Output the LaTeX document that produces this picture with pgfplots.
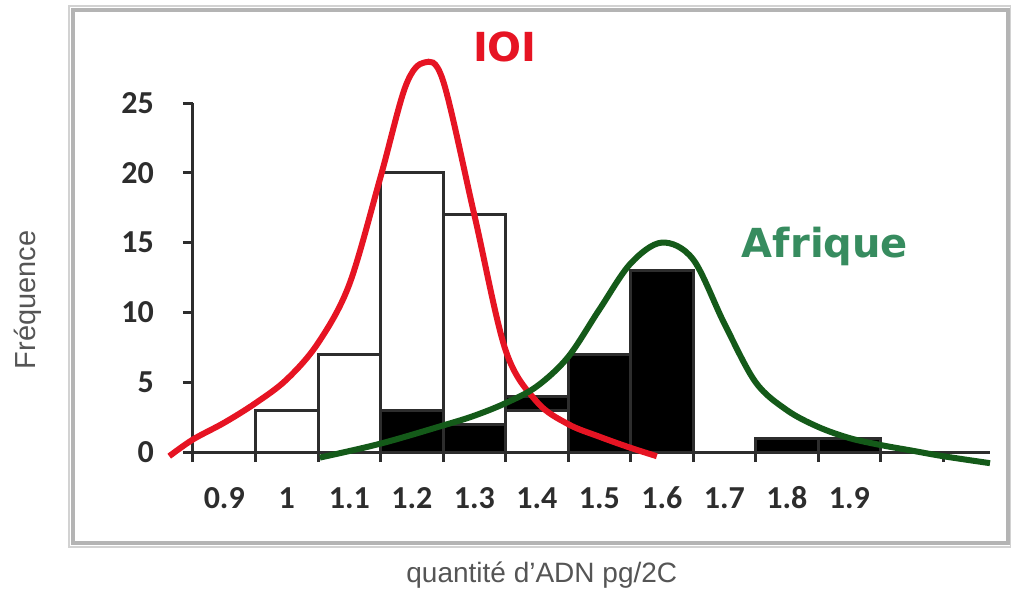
\documentclass[border=0pt]{standalone}
\usepackage{pgfplots}
\pgfplotsset{compat=1.18}
\usepackage{fontspec}
\setmainfont{Liberation Sans}
\newfontfamily\carlito{Carlito}
\newfontfamily\dejavu{DejaVu Sans}
\definecolor{ioired}{RGB}{230,20,35}
\definecolor{afrgreen}{RGB}{20,90,25}
\definecolor{afrtext}{RGB}{55,140,95}
\definecolor{axgray}{RGB}{45,45,45}
\definecolor{framegray}{RGB}{180,180,180}
\definecolor{labgray}{RGB}{85,85,85}
\begin{document}
\begin{tikzpicture}
\begin{axis}[
  at={(0,0)}, anchor=south west,
  scale only axis, width=398.5pt, height=174.5pt,
  xmin=0, xmax=12.75, ymin=0, ymax=25,
  axis x line=bottom, axis y line=left,
  axis line style={-, axgray, line width=1.5pt},
  clip=false,
  xtick={0,...,12},
  xticklabels={0.9,1,1.1,1.2,1.3,1.4,1.5,1.6,1.7,1.8,1.9,{}},
  x tick label as interval,
  ytick={0,5,...,25},
  tick align=outside, major tick length=5pt,
  tick style={axgray, line width=1.5pt},
  ticklabel style={font=\carlito\bfseries\fontsize{16}{18}\selectfont, text=axgray},
  /pgf/number format/assume math mode=true,
  yticklabel style={anchor=east, xshift=-11pt},
  xticklabel style={anchor=north, yshift=-12pt, text height=11pt, text depth=0pt, inner sep=0pt},
  xlabel={quantité d'ADN pg/2C},
  ylabel={Fréquence},
  xlabel style={at={(axis cs:5.58,-8.81)}, anchor=center, font=\fontsize{14}{16}\selectfont, text=labgray},
  ylabel style={at={(axis cs:-2.64,10.9)}, anchor=center, rotate=0, font=\fontsize{14.5}{16}\selectfont, text=labgray},
]
% IOI (white bars)
\addplot[ybar interval, fill=white, draw=axgray, line width=1.5pt]
  coordinates {(1,3) (2,7) (3,20) (4,17) (5,0)};
% Afrique (black bars)
\addplot[ybar interval, fill=black, draw=axgray, line width=1.5pt]
  coordinates {(3,3) (4,2) (5,4) (6,7) (7,13) (8,0) (9,1) (10,1) (11,0)};
% IOI bar at 1.4
\addplot[ybar interval, fill=white, draw=axgray, line width=1.5pt]
  coordinates {(5,3) (6,0)};
% IOI curve
\addplot[ioired, line width=3pt, smooth, tension=0.55] coordinates {
  (-0.38,-0.3) (0,0.9) (0.5,2.1) (1.0,3.5) (1.5,5.2) (2.0,7.8) (2.5,12.0)
  (3.0,19.7) (3.4,26.2) (3.7,27.9) (4.0,26.6) (4.5,17.0) (5.0,7.3)
  (5.5,3.6) (6.0,2.0) (6.5,1.1) (7.0,0.3) (7.42,-0.3)};
% Afrique curve
\addplot[afrgreen, line width=3pt, smooth, tension=0.55] coordinates {
  (2.03,-0.4) (3.0,0.6) (4.0,1.9) (4.5,2.6) (5.0,3.5) (5.5,4.7) (6.0,6.8)
  (6.5,10.2) (7.0,13.5) (7.5,15.0) (8.0,13.8) (8.5,9.2) (9.0,5.0) (9.5,3.0)
  (10.0,1.8) (10.5,1.0) (11.0,0.5) (11.5,0.1) (12.0,-0.3) (12.75,-0.8)};
\node[anchor=base, text=ioired, font=\dejavu\bfseries\fontsize{20}{22}\selectfont] at (axis cs:4.99,27.94) {IOI};
\node[anchor=base, text=afrtext, font=\dejavu\bfseries\fontsize{20}{22}\selectfont] at (axis cs:10.11,13.9) {Afrique};
\end{axis}
\draw[framegray!60, line width=1pt] (-62pt,-47.5pt) rectangle (409pt,223pt);
\draw[framegray, line width=2pt] (-60pt,-45.5pt) rectangle (407.5pt,221pt);
\pgfresetboundingbox
\path[use as bounding box] (-96.5pt,-71.5pt) rectangle (409pt,226pt);
\end{tikzpicture}
\end{document}
